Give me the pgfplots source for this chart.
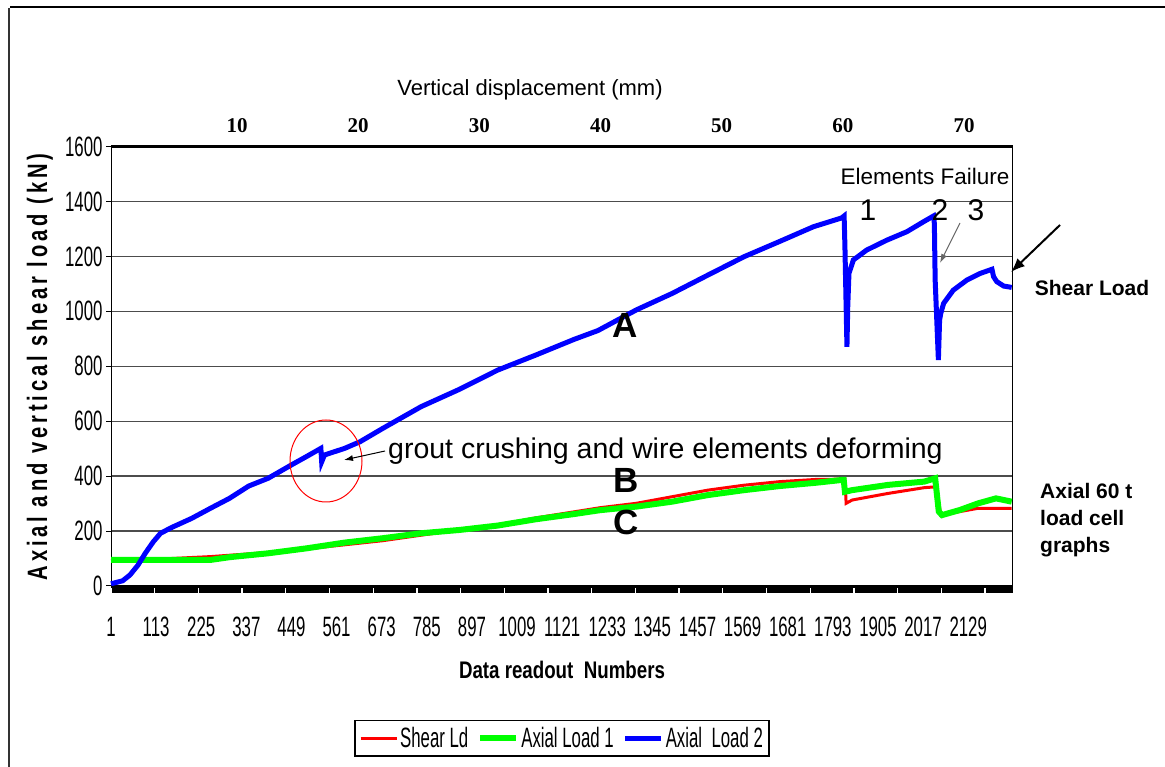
\documentclass[border=0pt]{standalone}
\usepackage{pgfplots}
\pgfplotsset{compat=1.18}
\usepackage{fontspec}
\setmainfont{Liberation Sans}
\newfontfamily\narrow[FakeStretch=0.6]{Liberation Sans}
\newfontfamily\narrowb[FakeStretch=0.78]{Liberation Sans}
\newfontfamily\ylabfont[FakeStretch=0.72,LetterSpace=14]{Liberation Sans}
\newfontfamily\tnr{Liberation Serif}
\usetikzlibrary{arrows.meta}

\pgfplotstableread{
k v
1 93
150 100
248 107
296 112
391 122
486 135
581 150
676 165
771 185
866 204
961 222
1056 248
1151 270
1215 285
1305 301
1394 325
1483 349
1573 367
1662 380
1752 388
1823 389
1826 301
1841 313
1930 337
2020 358
2049 361
2053 330
2061 258
2109 271
2154 283
2237 283
}\shear

\pgfplotstableread{
k v
1 95
248 95
296 105
391 119
486 137
581 158
676 174
771 192
866 204
961 220
1056 243
1151 262
1215 276
1305 289
1394 307
1483 331
1573 349
1662 364
1752 376
1815 386
1820 386
1823 343
1841 349
1930 368
2020 380
2047 392
2056 271
2064 258
2109 277
2154 301
2198 319
2237 307
}\axialone

\pgfplotstableread{
k v
1 8
30 19
48 40
68 76
86 119
106 161
124 192
153 214
201 246
248 283
295 319
343 364
391 392
448 440
486 471
522 501
524 452
531 477
581 501
619 525
676 574
771 653
866 716
961 786
1056 841
1151 898
1210 930
1305 1005
1394 1065
1483 1132
1573 1199
1662 1255
1745 1308
1815 1340
1821 1347
1823 1235
1826 1017
1828 871
1830 1017
1833 1138
1844 1187
1877 1223
1927 1259
1977 1290
2018 1326
2043 1347
2045 1320
2047 1114
2051 968
2055 823
2058 968
2061 993
2068 1029
2092 1077
2126 1114
2159 1138
2188 1153
2192 1126
2200 1108
2217 1092
2237 1087
}\axialtwo

\begin{document}
\begin{tikzpicture}[x=1pt,y=1pt]
\useasboundingbox (0,0) rectangle (1165,767);
% outer frame
\draw[line width=2pt] (10,760) -- (1165,760);
\draw[line width=2pt, black!80] (8.8,759) -- (8.8,0);

\begin{axis}[
  at={(111pt,181pt)}, anchor=south west,
  width=901.5pt, height=439.5pt, scale only axis,
  xmin=1, xmax=2239, ymin=0, ymax=1600,
  xtick={1,113,...,2129},
  ytick={0,200,...,1600},
  ytick pos=left,
  ymajorgrids,
  grid style={line width=1.3pt, color=black!70},
  axis line style={line width=1pt, black},
  xtick style={draw=none},
  ytick style={line width=1pt, black},
  tick align=outside,
  major tick length=5pt,
  /pgf/number format/assume math mode=true,
  /pgf/number format/set thousands separator={},
  tick label style={font=\narrow\fontsize{28}{28}\selectfont},
  x tick label style={anchor=center, yshift=-36pt},
  y tick label style={anchor=east, xshift=0pt},
  clip=false,
  legend columns=3,
  legend style={at={(0.5003,-0.346)}, anchor=center, draw=black, line width=1.3pt,
    font=\narrow\fontsize{28}{28}\selectfont, inner xsep=4pt, inner ysep=5pt,
    /tikz/every even column/.append style={column sep=7pt}},
  legend image code/.code={\draw[#1] (0pt,0pt) -- (36pt,0pt);},
]
\addplot[color=red, line width=3pt] table[x=k, y=v] {\shear};
\addlegendentry{Shear Ld}
\addplot[color=green, line width=6pt] table[x=k, y=v] {\axialone};
\addlegendentry{Axial Load 1}
\addplot[color=blue, line width=5pt] table[x=k, y=v] {\axialtwo};
\addlegendentry{Axial\ \ Load 2}
\draw[line width=2.5pt, black] (rel axis cs:0,1) -- (rel axis cs:1,1);
\end{axis}

% top axis: vertical displacement
\begin{axis}[
  at={(111pt,181pt)}, anchor=south west,
  width=901.5pt, height=439.5pt, scale only axis,
  xmin=-0.4, xmax=74, ymin=0, ymax=1,
  axis x line*=top, axis y line=none,
  axis line style={line width=2.5pt, black},
  xtick={10,20,...,70},
  xtick style={draw=none},
  /pgf/number format/assume math mode=true,
  x tick label style={font=\tnr\bfseries\fontsize{21}{21}\selectfont, anchor=center, yshift=21pt},
]
\end{axis}

% bottom band
\fill[black] (111,181) rectangle (1012.5,173.5);
\foreach \j in {0,...,20} {\draw[white, line width=1.3pt] ({111+43.7*\j},173.5) -- ({111+43.7*\j},178.5);}

% labels
\node[font=\fontsize{22}{22}\selectfont] at (530,677) {Vertical displacement (mm)};
\node[rotate=90, font=\ylabfont\bfseries\fontsize{28}{28}\selectfont] at (40,400) {Axial and vertical shear load (kN)};
\node[font=\narrowb\bfseries\fontsize{24}{24}\selectfont] at (562,97) {Data readout\ \ Numbers};

% annotations
\node[font=\bfseries\fontsize{35}{35}\selectfont] at (625,442) {A};
\node[font=\bfseries\fontsize{35}{35}\selectfont] at (626,287) {B};
\node[font=\bfseries\fontsize{35}{35}\selectfont] at (626,245) {C};
\node[anchor=west, font=\fontsize{28.5}{28.5}\selectfont, inner sep=0pt] at (388,316) {grout crushing and wire elements deforming};
\draw[red, line width=1pt] (326,306) ellipse [x radius=36, y radius=41];
\draw[black, line width=1pt, -{Latex[length=9pt,width=6pt]}] (385,316) -- (344,307);
\node[font=\fontsize{22.5}{22.5}\selectfont] at (925,591) {Elements Failure};
\node[font=\fontsize{30}{30}\selectfont] at (868,557) {1};
\node[font=\fontsize{30}{30}\selectfont] at (940,557) {2};
\node[font=\fontsize{30}{30}\selectfont] at (976,557) {3};
\draw[black!60, line width=1pt, -{Latex[length=9pt,width=6pt]}] (960,544) -- (940,504);
\draw[black, line width=2pt, -{Latex[length=14pt,width=11pt]}] (1060,542) -- (1011,495);
\node[font=\bfseries\fontsize{21}{21}\selectfont] at (1092,479) {Shear Load};
\node[anchor=west, align=left, font=\bfseries\fontsize{21}{27}\selectfont, inner sep=0pt] at (1040,247) {Axial 60 t\\load cell\\graphs};
\end{tikzpicture}
\end{document}
